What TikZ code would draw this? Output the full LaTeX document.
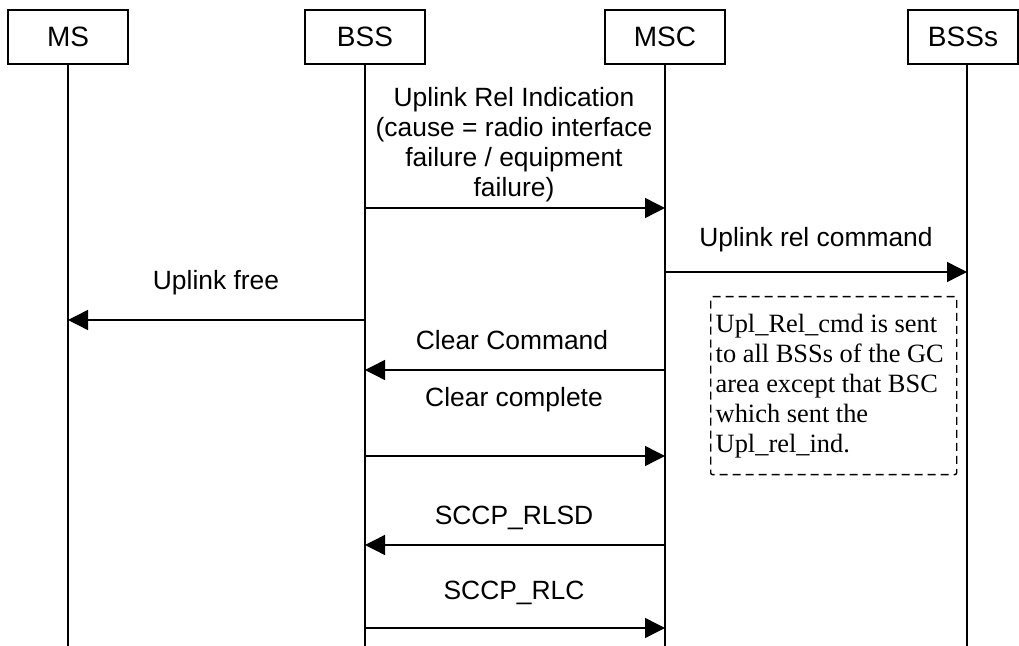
\documentclass[tikz,border=0pt]{standalone}
\usepackage{fontspec}
\setmainfont{Liberation Sans}
\newfontfamily\notefont{Liberation Serif}
\usepackage{tikz}
\usetikzlibrary{arrows.meta}

\tikzset{
  entity/.style={draw, line width=0.7pt, minimum width=60pt, minimum height=27pt, inner sep=0pt, font=\fontsize{14}{16}\selectfont},
  msg/.style={line width=0.7pt, -{Triangle[length=10pt,width=10pt]}},
  lbl/.style={font=\fontsize{13.2}{15}\selectfont, align=center, inner sep=0pt},
  note/.style={draw, dashed, dash pattern=on 4pt off 2.5pt, line width=0.7pt, rounded corners=1pt,
    text width=118pt, minimum height=89pt, inner sep=2.5pt, align=flush left, font=\notefont\fontsize{13.2}{15}\selectfont}
}

\begin{document}
\begin{tikzpicture}[x=0.5pt,y=-0.5pt]
	    \useasboundingbox (0,0) rectangle (1019,646);

	    % entities
	    \node[entity] (ms) at (68,37){MS};
	    \node[entity] (bss) at (365,37){BSS};
	    \node[entity] (msc) at (665,37){MSC};
	    \node[entity, minimum width=55pt] (bsss) at (963,37){BSSs};

	    % lifelines
	    \coordinate (bottom) at (0,646);
	    \coordinate (bsl) at (967,0);
	    \draw[line width=0.7pt] (ms.south) -- (ms |- bottom);
	    \draw[line width=0.7pt] (bss.south) -- (bss |- bottom);
	    \draw[line width=0.7pt] (msc.south) -- (msc |- bottom);
	    \draw[line width=0.7pt] (bsss.south -| bsl) -- (bsl |- bottom);

	    % message rows
	    \coordinate (r1) at (0,208);
	    \coordinate (r2) at (0,272);
	    \coordinate (r3) at (0,320);
	    \coordinate (r4) at (0,370);
	    \coordinate (r5) at (0,456);
	    \coordinate (r6) at (0,545);
	    \coordinate (r7) at (0,628);

	    \node[lbl] (relind) at (514,145){Uplink Rel Indication\\(cause = radio interface\\failure / equipment\\failure)};
	    \draw[msg] (bss |- r1) -- (msc |- r1);

	    \node[lbl] (relcmd) at (816,240){Uplink rel command};
	    \draw[msg] (msc |- r2) -- (bsl |- r2);

	    \node[lbl] (free) at (216,283){Uplink free};
	    \draw[msg] (bss |- r3) -- (ms |- r3);

	    \node[note, anchor=north west] (remark) at (710,296){Upl\_Rel\_cmd is sent\\to all BSSs of the GC\\area except that BSC\\which sent the\\Upl\_rel\_ind.};

	    \node[lbl] (clrcmd) at (512,340){Clear Command};
	    \draw[msg] (msc |- r4) -- (bss |- r4);

	    \node[lbl] (clrcmp) at (514,400){Clear complete};
	    \draw[msg] (bss |- r5) -- (msc |- r5);

	    \node[lbl] (rlsd) at (514,518){SCCP\_RLSD};
	    \draw[msg] (msc |- r6) -- (bss |- r6);

	    \node[lbl] (rlc) at (514,593){SCCP\_RLC};
	    \draw[msg] (bss |- r7) -- (msc |- r7);
\end{tikzpicture}
\end{document}
